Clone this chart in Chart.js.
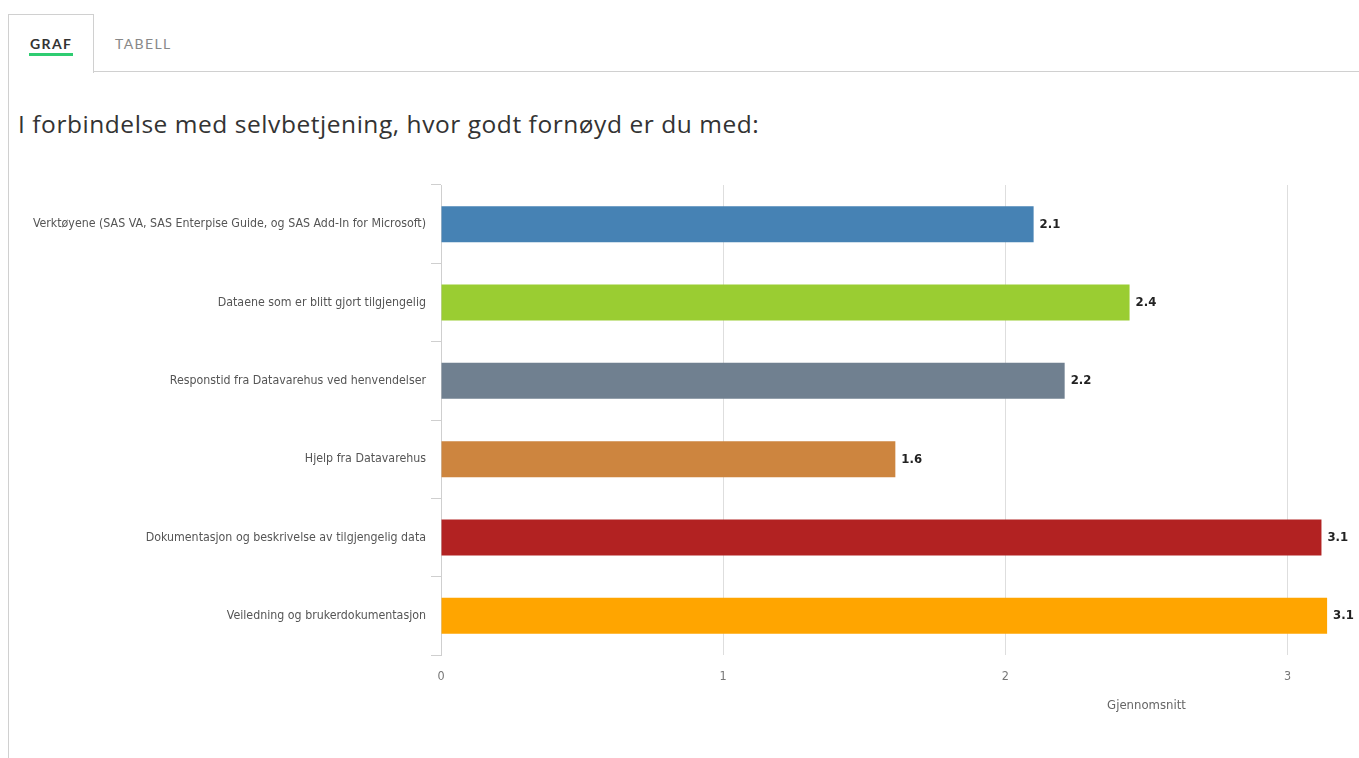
<!DOCTYPE html>
<html lang="no">
<head>
<meta charset="utf-8">
<title>Selvbetjening</title>
<script src="https://cdn.jsdelivr.net/npm/chart.js@4.4.0/dist/chart.umd.min.js"></script>
<style>
  html, body { margin: 0; padding: 0; background: #fff; overflow: hidden; }
  body { width: 1359px; height: 758px; position: relative; font-family: Lato, "Open Sans", sans-serif; }
  .panel { position: absolute; left: 8px; top: 71px; right: -2px; bottom: -2px; border-left: 1px solid #d0d0d0; border-top: 1px solid #d0d0d0; }
  .tab { position: absolute; left: 8px; top: 14px; width: 84px; height: 58px; border: 1px solid #d0d0d0; border-bottom: none; background: #fff; }
  .tab-label { position: absolute; top: 35px; font-size: 14px; letter-spacing: 1.4px; }
  .tab-active { left: 30px; font-weight: bold; color: #333; }
  .tab-idle { left: 115px; color: #888; }
  .tab-bar { position: absolute; left: 29px; top: 53px; width: 44px; height: 3px; background: #2ecc71; }
  h1 { position: absolute; left: 18px; top: 107px; margin: 0; font-family: "Open Sans", Lato, sans-serif; font-size: 24.5px; letter-spacing: 0.55px; font-weight: normal; color: #333; white-space: nowrap; }
  .wrap { position: absolute; left: 0; top: 170px; width: 1359px; height: 588px; overflow: hidden; }
  canvas { display: block; }
</style>
</head>
<body>
<div class="panel"></div>
<div class="tab"></div>
<div class="tab-label tab-active">GRAF</div>
<div class="tab-bar"></div>
<div class="tab-label tab-idle">TABELL</div>
<h1>I forbindelse med selvbetjening, hvor godt fornøyd er du med:</h1>
<div class="wrap"><canvas id="chart_bar" width="1880" height="547"></canvas></div>

<script>
'use strict';

var categories = [
    'Verktøyene (SAS VA, SAS Enterpise Guide, og SAS Add-In for Microsoft)',
    'Dataene som er blitt gjort tilgjengelig',
    'Responstid fra Datavarehus ved henvendelser',
    'Hjelp fra Datavarehus',
    'Dokumentasjon og beskrivelse av tilgjengelig data',
    'Veiledning og brukerdokumentasjon'
];
var averages = [2.10, 2.44, 2.21, 1.61, 3.12, 3.14];
var barColors = ['#4682B4', '#9ACD32', '#708090', '#CD853F', '#B22222', '#FFA500'];
var axisTicks = [0, 1, 2, 3, 4, 5];

var narrowFont = '"DejaVu Sans Condensed", "Roboto", sans-serif';

// prints the rounded average just past the end of each bar
var valueLabels = {
    id: 'valueLabels',
    afterDatasetsDraw: function(chart) {
        var ctx = chart.ctx;
        var meta = chart.getDatasetMeta(0);
        ctx.save();
        ctx.font = 'bold 13px ' + narrowFont;
        ctx.fillStyle = '#222';
        ctx.textAlign = 'left';
        ctx.textBaseline = 'middle';
        meta.data.forEach(function(bar, i) {
            ctx.fillText(averages[i].toFixed(1), bar.x + 6, bar.y);
        });
        ctx.restore();
    }
};

var chart_bar = document.getElementById('chart_bar');
if (chart_bar !== null) {
    new Chart(chart_bar.getContext('2d'), {
        type: 'bar',
        data: {
            labels: categories,
            datasets: [{
                label: 'Gjennomsnitt',
                data: averages,
                backgroundColor: barColors,
                borderWidth: 0,
                categoryPercentage: 1,
                barPercentage: 0.46
            }]
        },
        plugins: [valueLabels],
        options: {
            indexAxis: 'y',
            responsive: false,
            animation: false,
            layout: { padding: { top: 15, right: 28, bottom: 0, left: 0 } },
            plugins: {
                legend: { display: false },
                tooltip: { enabled: false }
            },
            scales: {
                x: {
                    min: 0,
                    max: 5,
                    afterBuildTicks: function(scale) {
                        scale.ticks = axisTicks.map(function(v) { return { value: v }; });
                    },
                    afterFit: function(scale) { scale.height = 62; },
                    border: { display: false },
                    grid: { color: '#dedede', drawTicks: false },
                    ticks: {
                        padding: 14,
                        color: '#777',
                        font: { family: narrowFont, size: 12.5 }
                    },
                    title: {
                        display: true,
                        text: 'Gjennomsnitt',
                        color: '#666',
                        font: { family: narrowFont, size: 13 }
                    }
                },
                y: {
                    afterFit: function(scale) { scale.width = 441; },
                    border: { display: true, color: '#cfcfcf' },
                    grid: { drawOnChartArea: false, color: '#cfcfcf', tickLength: 10 },
                    ticks: {
                        padding: 5,
                        color: '#555',
                        font: { family: narrowFont, size: 12.3 }
                    }
                }
            }
        }
    });
}
</script>
</body>
</html>
